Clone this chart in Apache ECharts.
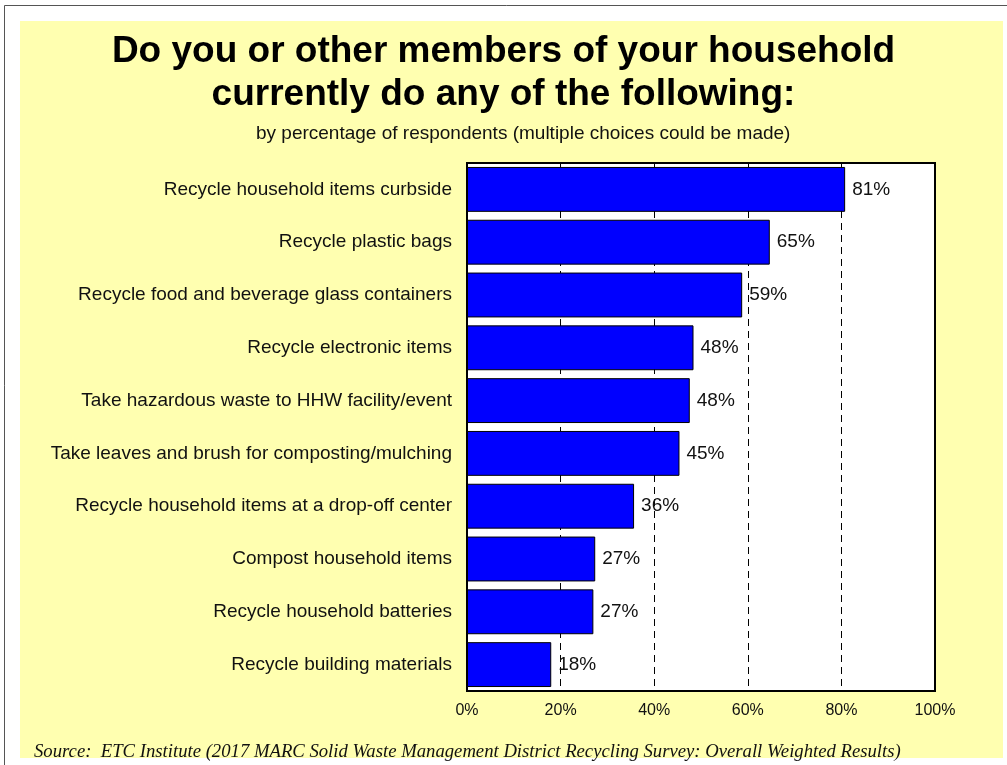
<!DOCTYPE html>
<html>
<head>
<meta charset="utf-8">
<script src="https://cdn.jsdelivr.net/npm/echarts@6/dist/echarts.min.js"></script>
<style>html,body{margin:0;padding:0;background:#fff;}#c{width:1007px;height:765px;}</style>
</head>
<body>
<div id="c"></div>
<script>
var categories = [
  'Recycle household items curbside',
  'Recycle plastic bags',
  'Recycle food and beverage glass containers',
  'Recycle electronic items',
  'Take hazardous waste to HHW facility/event',
  'Take leaves and brush for composting/mulching',
  'Recycle household items at a drop-off center',
  'Compost household items',
  'Recycle household batteries',
  'Recycle building materials'
];
var values = [80.8, 64.7, 58.8, 48.4, 47.6, 45.4, 35.7, 27.4, 27.0, 18.0];
var valueLabels = ['81%', '65%', '59%', '48%', '48%', '45%', '36%', '27%', '27%', '18%'];
var xTicks = [0, 20, 40, 60, 80, 100];
var titleText = 'Do you or other members of your household\ncurrently do any of the following:';
var subtitleText = 'by percentage of respondents (multiple choices could be made)';
var sourceText = 'Source:  ETC Institute (2017 MARC Solid Waste Management District Recycling Survey: Overall Weighted Results)';

var chart = echarts.init(document.getElementById('c'), null, {renderer: 'canvas'});
chart.setOption({
  backgroundColor: '#ffffff',
  animation: false,
  graphic: [
    {type: 'rect', z: -10, shape: {x: 4.5, y: 5.5, width: 1010, height: 770}, style: {fill: '#ffffff', stroke: '#555555', lineWidth: 1}},
    {type: 'rect', z: -9, shape: {x: 20, y: 21, width: 983, height: 737}, style: {fill: '#FFFFB0', stroke: null}}
  ],
  title: [
    {text: titleText, left: 'center', top: 25, textStyle: {fontFamily: 'Liberation Sans, Arial, sans-serif', fontSize: 37, fontWeight: 'bold', color: '#000', lineHeight: 43}},
    {text: subtitleText, left: 251, top: 119, textStyle: {fontFamily: 'Liberation Sans, Arial, sans-serif', fontSize: 19, fontWeight: 'normal', color: '#111'}},
    {text: sourceText, left: 29, top: 738, textStyle: {fontFamily: 'Liberation Serif, Times New Roman, serif', fontSize: 18.7, fontStyle: 'italic', fontWeight: 'normal', color: '#111'}}
  ],
  grid: {left: 467, top: 163, width: 468, height: 528, show: true, backgroundColor: '#ffffff', borderColor: '#000', borderWidth: 2, containLabel: false},
  xAxis: {
    type: 'value', min: 0, max: 100, interval: 20,
    axisLine: {show: false}, axisTick: {show: false},
    splitLine: {show: true, lineStyle: {color: '#000', type: [7, 5], width: 1}},
    axisLabel: {formatter: '{value}%', fontFamily: 'Liberation Sans, Arial, sans-serif', fontSize: 16, color: '#111', margin: 12}
  },
  yAxis: {
    type: 'category', data: categories, inverse: true,
    axisLine: {show: false}, axisTick: {show: false}, splitLine: {show: false},
    axisLabel: {fontFamily: 'Liberation Sans, Arial, sans-serif', fontSize: 19, color: '#111', margin: 15}
  },
  series: [{
    type: 'bar', data: values, barCategoryGap: '15%',
    itemStyle: {color: '#0000FF', borderColor: '#000', borderWidth: 1},
    label: {show: true, position: 'right', distance: 7, fontFamily: 'Liberation Sans, Arial, sans-serif', fontSize: 19, color: '#111',
      formatter: function (p) { return valueLabels[p.dataIndex]; }}
  }]
});
</script>
</body>
</html>
